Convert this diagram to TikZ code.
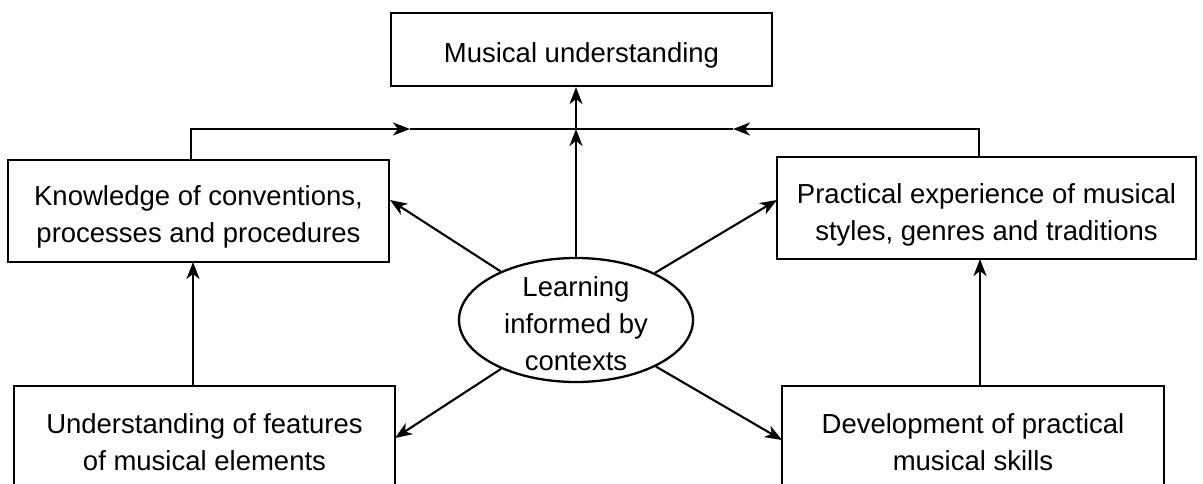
\documentclass[tikz,border=0pt]{standalone}
\usepackage{fontspec}
\setmainfont{Liberation Sans}
\usetikzlibrary{arrows.meta,shapes.geometric}
\begin{document}
\begin{tikzpicture}[x=1pt,y=-1pt,
  box/.style={draw,line width=2.3pt,inner sep=0pt},
  txt/.style={align=center,inner sep=0pt,font=\fontsize{27.5}{37}\selectfont},
  arr/.style={-{Stealth[length=17pt,width=13pt,inset=5pt]}},
  ln/.style={line width=2.1pt}]
\useasboundingbox (0,0) rectangle (1203,484);
\fill[white] (0,0) rectangle (1203,484);
\node[box,minimum width=381pt,minimum height=73pt] (mu) at (581.5,49.5) {};
\node[box,minimum width=381pt,minimum height=102pt] (kb) at (198.5,211) {};
\node[box,minimum width=419pt,minimum height=102pt] (pe) at (986.5,208) {};
\node[box,minimum width=381pt,minimum height=102pt] (uf) at (204.5,437) {};
\node[box,minimum width=382pt,minimum height=102pt] (dp) at (973,437) {};
\node[box,ellipse,minimum width=234pt,minimum height=124pt] (ell) at (576,320) {};
\node[txt,yshift=-6pt] (mut) at (mu) {Musical understanding};
\node[txt,yshift=-6pt] (kbt) at (kb) {Knowledge of conventions,\\processes and procedures};
\node[txt,yshift=-7pt] (pet) at (pe) {Practical experience of musical\\styles, genres and traditions};
\node[txt,yshift=-5pt] (uft) at (uf) {Understanding of features\\of musical elements};
\node[txt,yshift=-5pt] (dpt) at (dp) {Development of practical\\musical skills};
\node[txt,yshift=-3.5pt] (ellt) at (ell) {Learning\\informed by\\contexts};
\coordinate (j) at (576,129);
\coordinate (lt) at (191,159);
\coordinate (la) at (410,129);
\coordinate (rt) at (979,156);
\coordinate (ra) at (733,129);
\coordinate (a1) at (390,200);
\coordinate (a2) at (777,200);
\coordinate (a3) at (395,438);
\coordinate (a4) at (782,440);
\coordinate (ub) at (193,386);
\coordinate (ut) at (193,262);
\coordinate (db) at (980,386);
\coordinate (dt) at (980,259);
\draw[ln,arr] (lt) |- (la);
\draw[ln] (la) -- (j);
\draw[ln,arr] (rt) |- (ra);
\draw[ln] (ra) -- (j);
\draw[ln,arr] (ell.north) -- (j);
\draw[ln,arr] (j) -- (j |- mu.south);
\draw[ln,arr] (ell) -- (a1);
\draw[ln,arr] (ell) -- (a2);
\draw[ln,arr] (ell) -- (a3);
\draw[ln,arr] (ell) -- (a4);
\draw[ln,arr] (ub) -- (ut);
\draw[ln,arr] (db) -- (dt);
\end{tikzpicture}
\end{document}
